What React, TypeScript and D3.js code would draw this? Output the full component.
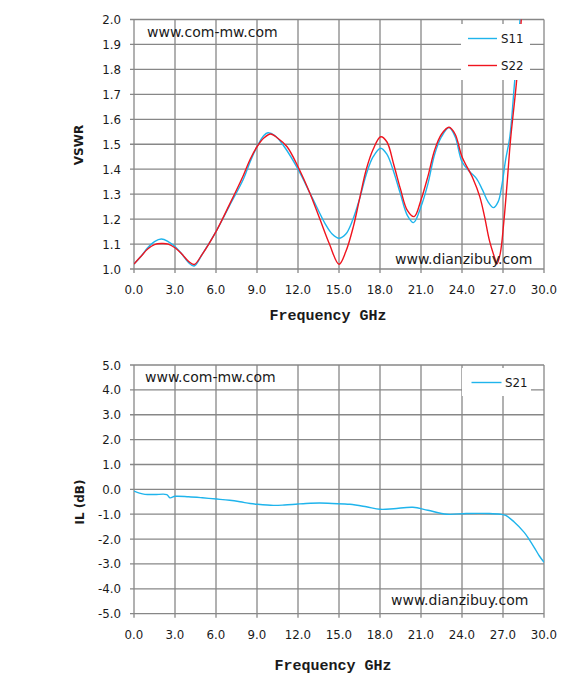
import React from "react";
import * as d3 from "d3";

// ---- Data ----
const freqTicks = [0, 3, 6, 9, 12, 15, 18, 21, 24, 27, 30];

const s11Freq = [0, 0.5, 1.0, 1.5, 2.0, 2.5, 3.0, 3.5, 4.0, 4.4, 5.0, 6.0, 7.0, 8.0, 8.5, 9.0, 9.5, 9.8, 10.3, 11.0, 12.0, 13.0, 14.0, 14.5, 15.0, 15.5, 16.0, 16.5, 17.0, 17.5, 18.05, 18.5, 19.0, 19.5, 20.0, 20.45, 21.0, 21.5, 22.0, 22.5, 23.05, 23.5, 24.0, 24.57, 25.05, 25.5, 25.9, 26.3, 26.65, 26.9, 27.2, 27.5, 27.85, 28.25, 28.4];
const s11Vswr = [1.02, 1.05, 1.085, 1.11, 1.12, 1.11, 1.09, 1.06, 1.025, 1.012, 1.06, 1.15, 1.255, 1.36, 1.43, 1.49, 1.535, 1.546, 1.535, 1.49, 1.40, 1.29, 1.18, 1.14, 1.123, 1.14, 1.196, 1.28, 1.38, 1.45, 1.484, 1.46, 1.39, 1.30, 1.215, 1.186, 1.25, 1.34, 1.46, 1.53, 1.567, 1.53, 1.43, 1.39, 1.363, 1.317, 1.27, 1.246, 1.27, 1.33, 1.44, 1.53, 1.75, 2.0, 2.1];

const s22Freq = [0, 0.5, 1.0, 1.5, 2.0, 2.5, 3.0, 3.5, 4.0, 4.4, 5.0, 6.0, 7.0, 8.0, 8.5, 9.0, 9.5, 10.0, 10.5, 11.2, 12.0, 12.9, 13.6, 14.3, 15.0, 15.5, 16.05, 16.5, 17.0, 17.5, 18.05, 18.5, 19.0, 19.5, 20.0, 20.5, 21.0, 21.5, 22.0, 22.5, 23.05, 23.5, 24.0, 24.8, 25.3, 25.65, 26.0, 26.4, 26.55, 26.8, 27.05, 27.3, 27.55, 28.0, 28.4];
const s22Vswr = [1.02, 1.05, 1.08, 1.098, 1.102, 1.10, 1.085, 1.06, 1.03, 1.018, 1.06, 1.15, 1.26, 1.375, 1.44, 1.49, 1.525, 1.541, 1.525, 1.49, 1.41, 1.30, 1.20, 1.10, 1.019, 1.07, 1.17, 1.28, 1.40, 1.48, 1.53, 1.51, 1.42, 1.32, 1.235, 1.21, 1.277, 1.37, 1.477, 1.54, 1.568, 1.54, 1.45, 1.363, 1.29, 1.21, 1.116, 1.043, 1.02, 1.063, 1.183, 1.343, 1.517, 1.757, 2.05];

const s21Freq = [0, 0.4, 0.8, 1.5, 2.4, 2.63, 3.0, 4.0, 5.0, 6.05, 7.0, 7.76, 8.5, 9.0, 10.2, 11.0, 12.0, 12.9, 13.6, 14.5, 15.8, 17.0, 18.0, 19.0, 20.4, 21.5, 22.9, 24.3, 26.0, 26.8, 27.2, 27.8, 28.55, 28.9, 29.3, 29.65, 30.0];
const s21Loss = [-0.07, -0.15, -0.2, -0.21, -0.21, -0.34, -0.28, -0.30, -0.34, -0.39, -0.44, -0.50, -0.57, -0.6, -0.645, -0.63, -0.59, -0.56, -0.55, -0.57, -0.6, -0.7, -0.8, -0.78, -0.72, -0.84, -1.0, -0.97, -0.97, -1.0, -1.05, -1.3, -1.73, -2.0, -2.35, -2.67, -2.93];

const vswrTicks = [1.0, 1.1, 1.2, 1.3, 1.4, 1.5, 1.6, 1.7, 1.8, 1.9, 2.0];
const ilTicks = [-5, -4, -3, -2, -1, 0, 1, 2, 3, 4, 5];

const BLUE = "#1fb4ec";
const RED = "#f0141e";
const GRID = "#878787";
const TXT = "#1a1a1a";
const SANS = "'DejaVu Sans', Verdana, sans-serif";
const MONO = "'Liberation Mono', 'Courier New', monospace";

const x = d3.scaleLinear().domain([0, 30]).range([134, 544]);
const yTop = d3.scaleLinear().domain([1, 2]).range([269, 19.5]);
const yBot = d3.scaleLinear().domain([-5, 5]).range([613.7, 365]);

const zip = (a: number[], b: number[]) => a.map((v, i) => [v, b[i]] as [number, number]);
const f1 = (v: number) => (Math.abs(v) < 1e-9 ? 0 : v).toFixed(1);

function Grid({ y, ticks, labelBaseY }: { y: d3.ScaleLinear<number, number>; ticks: number[]; labelBaseY: number }) {
  const [y0, y1] = y.range();
  return (
    <g>
      {freqTicks.map((f) => (
        <line key={"v" + f} x1={x(f)} x2={x(f)} y1={y1} y2={y0 + 4} stroke={GRID} strokeWidth={1.3} />
      ))}
      {ticks.map((t) => (
        <line key={"h" + t} x1={130} x2={544} y1={y(t)} y2={y(t)} stroke={GRID} strokeWidth={1.3} />
      ))}
      {ticks.map((t) => (
        <text key={"yl" + t} x={121} y={y(t) + 4.5} textAnchor="end" fontFamily={SANS} fontSize={11.8} fill={TXT}>
          {f1(t)}
        </text>
      ))}
      {freqTicks.map((f) => (
        <text key={"xl" + f} x={x(f)} y={labelBaseY} textAnchor="middle" fontFamily={SANS} fontSize={11.8} fill={TXT}>
          {f1(f)}
        </text>
      ))}
    </g>
  );
}

export default function App() {
  const lineTop = d3
    .line<[number, number]>()
    .x((d) => x(d[0]))
    .y((d) => yTop(d[1]))
    .curve(d3.curveCatmullRom.alpha(0.5));
  const lineBot = d3
    .line<[number, number]>()
    .x((d) => x(d[0]))
    .y((d) => yBot(d[1]))
    .curve(d3.curveCatmullRom.alpha(0.5));

  return (
    <svg width={566} height={688} style={{ position: "absolute", left: 0, top: 0, background: "#fff" }}>
      <defs>
        <clipPath id="clipTop">
          <rect x={134} y={yTop(2)} width={410} height={yTop(1) - yTop(2)} />
        </clipPath>
        <clipPath id="clipBot">
          <rect x={134} y={yBot(5)} width={410} height={yBot(-5) - yBot(5)} />
        </clipPath>
      </defs>

      {/* Top chart */}
      <Grid y={yTop} ticks={vswrTicks} labelBaseY={294} />
      <g clipPath="url(#clipTop)">
        <path d={lineTop(zip(s11Freq, s11Vswr)) || ""} fill="none" stroke={BLUE} strokeWidth={1.4} />
        <path d={lineTop(zip(s22Freq, s22Vswr)) || ""} fill="none" stroke={RED} strokeWidth={1.4} />
      </g>
      <rect x={461} y={24} width={69} height={56} fill="#fff" />
      <line x1={468} x2={497} y1={38.5} y2={38.5} stroke={BLUE} strokeWidth={1.4} />
      <text x={501} y={43} fontFamily={SANS} fontSize={11.8} fill={TXT}>S11</text>
      <line x1={468} x2={497} y1={65.5} y2={65.5} stroke={RED} strokeWidth={1.4} />
      <text x={501} y={70} fontFamily={SANS} fontSize={11.8} fill={TXT}>S22</text>
      <text x={147} y={37} fontFamily={SANS} fontSize={14} fill={TXT}>www.com-mw.com</text>
      <text x={395} y={264} fontFamily={SANS} fontSize={14} fill={TXT}>www.dianzibuy.com</text>
      <text x={328} y={320} textAnchor="middle" fontFamily={MONO} fontWeight="bold" fontSize={15} fill={TXT}>Frequency GHz</text>
      <text transform="translate(82.5,145) rotate(-90)" textAnchor="middle" fontFamily={SANS} fontWeight="bold" fontSize={12} fill={TXT}>VSWR</text>

      {/* Bottom chart */}
      <Grid y={yBot} ticks={ilTicks} labelBaseY={639} />
      <g clipPath="url(#clipBot)">
        <path d={lineBot(zip(s21Freq, s21Loss)) || ""} fill="none" stroke={BLUE} strokeWidth={1.4} />
      </g>
      <rect x={462} y={368} width={69} height={28} fill="#fff" />
      <line x1={471.5} x2={501.5} y1={382.5} y2={382.5} stroke={BLUE} strokeWidth={1.4} />
      <text x={505} y={387} fontFamily={SANS} fontSize={11.8} fill={TXT}>S21</text>
      <text x={145} y={382} fontFamily={SANS} fontSize={14} fill={TXT}>www.com-mw.com</text>
      <text x={391} y={605} fontFamily={SANS} fontSize={14} fill={TXT}>www.dianzibuy.com</text>
      <text x={333} y={670} textAnchor="middle" fontFamily={MONO} fontWeight="bold" fontSize={15} fill={TXT}>Frequency GHz</text>
      <text transform="translate(84,502) rotate(-90)" textAnchor="middle" fontFamily={SANS} fontWeight="bold" fontSize={12} fill={TXT}>IL (dB)</text>
    </svg>
  );
}
